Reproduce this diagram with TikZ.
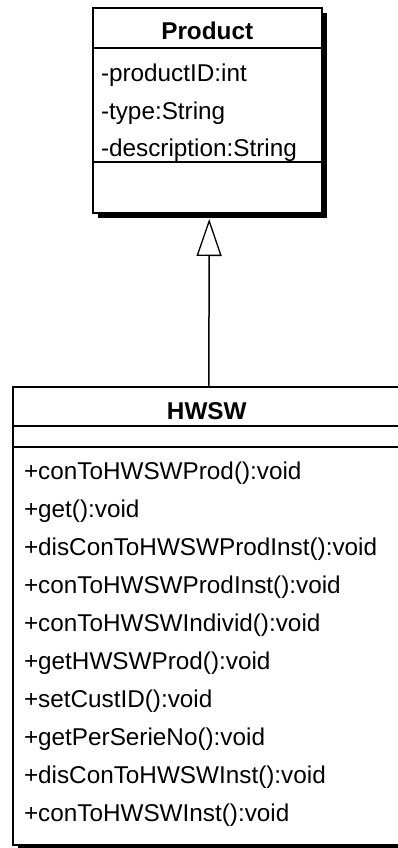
\documentclass[tikz,border=0pt]{standalone}
\usepackage{fontspec}
\setmainfont{Liberation Sans}
\usetikzlibrary{arrows.meta}
\begin{document}
\begin{tikzpicture}[x=1pt,y=-1pt,
  classbox/.style={draw=black,fill=white,line width=1.6pt,inner sep=0pt,outer sep=0pt,anchor=north west},
  shadowbox/.style={fill=black,inner sep=0pt,outer sep=0pt,anchor=north west},
  member/.style={anchor=base west,inner sep=0pt,font=\fontsize{24.3}{28}\selectfont},
  classtitle/.style={anchor=base,inner sep=0pt,font=\fontsize{24.3}{28}\selectfont\bfseries},
  sepline/.style={line width=1.6pt},
  generalization/.style={line width=1.5pt,-{Triangle[open,length=37pt,width=25pt,line width=1.3pt]}}]
\useasboundingbox (0,0) rectangle (398,848);
\fill[white] (0,0) rectangle (398,848);
\clip (0,0) rectangle (398,848);

% class Product
\node[shadowbox,minimum width=229pt,minimum height=205pt] (productshadow) at (97.7,13) {};
\node[classbox,minimum width=229pt,minimum height=205pt] (product) at (92.7,8) {};
\draw[sepline] (92.7,48) -- (321.7,48);
\draw[sepline] (92.7,162) -- (321.7,162);
\node[classtitle] (producttitle) at (207.2,39.5) {Product};
\node[member] (pattr1) at (100.8,81.7) {-productID:int};
\node[member] (pattr2) at (100.8,119.2) {-type:String};
\node[member] (pattr3) at (100.8,156.7) {-description:String};

% class HWSW
\node[shadowbox,minimum width=388.3pt,minimum height=458pt] (hwswshadow) at (17.7,392) {};
\node[classbox,minimum width=388.3pt,minimum height=458pt] (hwsw) at (12.7,387) {};
\draw[sepline] (12.7,426) -- (401,426);
\draw[sepline] (12.7,447) -- (401,447);
\node[classtitle] (hwswtitle) at (206.8,419) {HWSW};
\foreach \m [count=\k from 0] in {
  +conToHWSWProd():void,
  +get():void,
  +disConToHWSWProdInst():void,
  +conToHWSWProdInst():void,
  +conToHWSWIndivid():void,
  +getHWSWProd():void,
  +setCustID():void,
  +getPerSerieNo():void,
  +disConToHWSWInst():void,
  +conToHWSWInst():void}
  \node[member] (hm\k) at (23.8,479+38.1*\k) {\m};

% generalization HWSW -> Product
\draw[generalization] ([xshift=2pt]hwsw.north) -- ([xshift=2pt,yshift=-6pt]product.south);
\end{tikzpicture}
\end{document}
